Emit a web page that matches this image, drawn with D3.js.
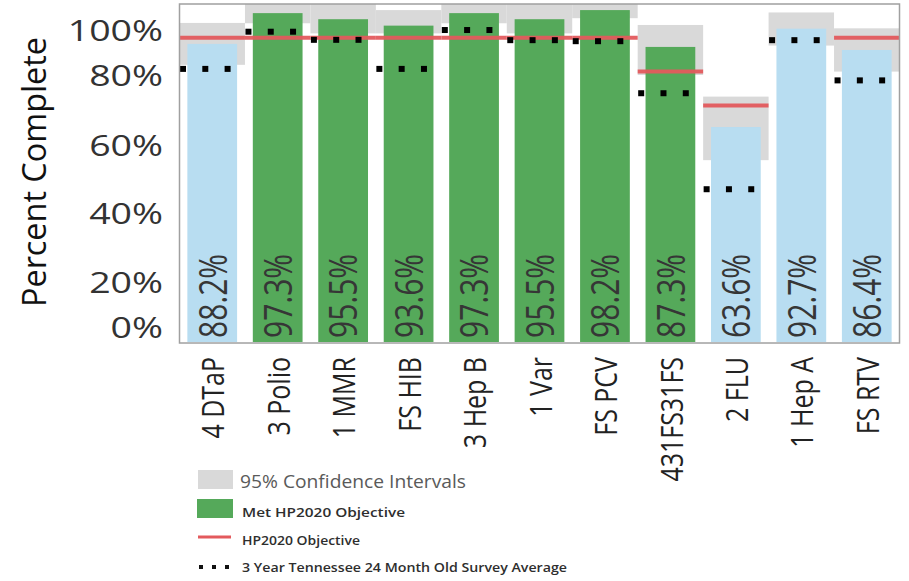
<!DOCTYPE html>
<html>
<head>
<meta charset="utf-8">
<script src="https://cdn.jsdelivr.net/npm/d3@7"></script>
<style>
  html, body { margin: 0; padding: 0; background: #fff; }
  svg { display: block; font-family: "Open Sans", "Noto Sans", sans-serif; }
</style>
</head>
<body>
<svg id="chart" width="909" height="581"></svg>
<script>
// ---- data ----
const categories = ["4 DTaP", "3 Polio", "1 MMR", "FS HIB", "3 Hep B", "1 Var", "FS PCV", "431FS31FS", "2 FLU", "1 Hep A", "FS RTV"];
const coverage   = [88.2, 97.3, 95.5, 93.6, 97.3, 95.5, 98.2, 87.3, 63.6, 92.7, 86.4];
const ciLower    = [82.0, 94.3, 91.3, 91.3, 94.3, 91.3, 95.8, 79.0, 53.8, 87.7, 80.0];
const ciUpper    = [94.4, 100, 100, 98.2, 100, 100, 100, 93.8, 72.6, 97.5, 92.8];
const objective  = [90, 90, 90, 90, 90, 90, 90, 80, 70, null, 90];
const surveyAvg  = [80.8, 91.8, 89.4, 80.8, 92.3, 89.3, 89.0, 73.6, 45.2, 89.3, 77.4];
const yTickValues = [0, 20, 40, 60, 80, 100];
const legendLabels = ["95% Confidence Intervals", "Met HP2020 Objective", "HP2020 Objective", "3 Year Tennessee 24 Month Old Survey Average"];

const rows = categories.map((c, i) => ({
  cat: c, value: coverage[i], lo: ciLower[i], hi: ciUpper[i],
  obj: objective[i], avg: surveyAvg[i],
  met: objective[i] != null && coverage[i] >= objective[i]
}));

const COLORS = { met: "#55a95a", notMet: "#b8ddf1", ci: "#d9d9d9", obj: "#e35a5d", dot: "#000" };

const svg = d3.select("#chart");
const plot = { left: 179.5, right: 899.5, top: 4, bottom: 342 };

const x = d3.scaleBand().domain(categories)
  .range([plot.left, plot.right]).paddingInner(0.24).paddingOuter(0.12);
const y = d3.scaleLinear().domain([0, 100]).range([plot.bottom, plot.top]);
// the reference's tick labels sit at irregular heights
const yLabel = d3.scaleLinear().domain(yTickValues).range([326, 281, 212.5, 144, 74, 29.5]);

const step = x.step();
const stepStart = c => x(c) - step * 0.12;
const cx = c => x(c) + x.bandwidth() / 2;

svg.append("rect").attr("width", 909).attr("height", 581).attr("fill", "#fff");

const clip = svg.append("clipPath").attr("id", "plotclip").append("rect")
  .attr("x", plot.left).attr("y", plot.top)
  .attr("width", plot.right - plot.left).attr("height", plot.bottom - plot.top);

const g = svg.append("g").attr("clip-path", "url(#plotclip)");

// confidence intervals
g.selectAll("rect.ci").data(rows).join("rect").attr("class", "ci")
  .attr("x", d => stepStart(d.cat)).attr("width", step)
  .attr("y", d => y(d.hi)).attr("height", d => y(d.lo) - y(d.hi))
  .attr("fill", COLORS.ci);

// bars
g.selectAll("rect.bar").data(rows).join("rect").attr("class", "bar")
  .attr("x", d => x(d.cat)).attr("width", x.bandwidth())
  .attr("y", d => y(d.value)).attr("height", d => y(0) - y(d.value))
  .attr("fill", d => d.met ? COLORS.met : COLORS.notMet);

// objective lines
g.selectAll("line.obj").data(rows.filter(d => d.obj != null)).join("line").attr("class", "obj")
  .attr("x1", d => stepStart(d.cat)).attr("x2", d => stepStart(d.cat) + step)
  .attr("y1", d => y(d.obj)).attr("y2", d => y(d.obj))
  .attr("stroke", COLORS.obj).attr("stroke-width", 4).attr("stroke-opacity", 0.95);

// survey average dots (3 squares per category)
const dotData = rows.flatMap(d => [0, 1, 2].map(k => ({ cat: d.cat, avg: d.avg, k })));
g.selectAll("rect.dot").data(dotData).join("rect").attr("class", "dot")
  .attr("x", d => stepStart(d.cat) + 0.5 + d.k * 22.3).attr("width", 6)
  .attr("y", d => y(d.avg) - 3).attr("height", 6)
  .attr("fill", COLORS.dot);

// value labels inside bars
svg.selectAll("text.val").data(rows).join("text").attr("class", "val")
  .attr("transform", d => `translate(${cx(d.cat)},338) scale(1.25,1) rotate(-90)`)
  .attr("text-anchor", "start").attr("dominant-baseline", "central")
  .attr("font-size", 30).attr("fill", "#363636")
  .text(d => d.value.toFixed(1) + "%");

// frame
svg.append("rect")
  .attr("x", plot.left).attr("y", plot.top)
  .attr("width", plot.right - plot.left).attr("height", plot.bottom + 1 - plot.top)
  .attr("fill", "none").attr("stroke", "#a0a0a0").attr("stroke-width", 1.5);

// y axis labels
const yAxis = d3.axisLeft(yLabel).tickValues(yTickValues).tickSize(0).tickFormat(d => d + "%");
const ya = svg.append("g").attr("transform", `translate(${plot.left},0)`).call(yAxis);
ya.select(".domain").remove();
ya.selectAll("text")
  .attr("x", 0).attr("dy", null)
  .attr("dominant-baseline", "central")
  .attr("transform", "translate(-16.5,0) scale(1.25,1)")
  .attr("font-family", "'Open Sans', sans-serif")
  .attr("font-size", 30).attr("fill", "#333");

// y title
svg.append("text")
  .attr("transform", "translate(33,172) scale(1.1,1) rotate(-90)")
  .attr("text-anchor", "middle").attr("dominant-baseline", "central")
  .attr("font-size", 30).attr("fill", "#111")
  .attr("textLength", 270).attr("lengthAdjust", "spacingAndGlyphs")
  .text("Percent Complete");

// x axis category labels
const xAxis = d3.axisBottom(x).tickSize(0);
const xa = svg.append("g").attr("transform", `translate(0,${plot.bottom})`).call(xAxis);
xa.select(".domain").remove();
xa.selectAll("text")
  .attr("y", null).attr("dy", null).attr("x", null)
  .attr("transform", "translate(0,15) scale(1.25,1) rotate(-90)")
  .attr("text-anchor", "end").attr("dominant-baseline", "central")
  .attr("font-family", "'Open Sans', sans-serif")
  .attr("font-size", 25).attr("fill", "#222");

// legend
const lg = svg.append("g");
lg.append("rect").attr("x", 198).attr("y", 470).attr("width", 35).attr("height", 19).attr("fill", COLORS.ci);
lg.append("rect").attr("x", 197).attr("y", 499).attr("width", 36).attr("height", 19).attr("fill", COLORS.met);
lg.append("line").attr("x1", 198).attr("x2", 231).attr("y1", 537).attr("y2", 537)
  .attr("stroke", COLORS.obj).attr("stroke-width", 3);
lg.selectAll("rect.ldot").data([0, 1, 2]).join("rect").attr("class", "ldot")
  .attr("x", k => 199 + k * 13).attr("y", 565).attr("width", 4).attr("height", 4).attr("fill", "#111");

const legendSpec = [
  { x: 240, y: 481, size: 18, len: 226, fill: "#5a5a5a", weight: 400 },
  { x: 242, y: 512, size: 13, len: 163, fill: "#2e2e2e", weight: 600 },
  { x: 242, y: 540, size: 13, len: 118, fill: "#2e2e2e", weight: 600 },
  { x: 242, y: 567, size: 12, len: 325, fill: "#2e2e2e", weight: 600 }
];
lg.selectAll("text.leg").data(legendLabels).join("text").attr("class", "leg")
  .attr("x", (d, i) => legendSpec[i].x).attr("y", (d, i) => legendSpec[i].y)
  .attr("dominant-baseline", "central")
  .attr("font-size", (d, i) => legendSpec[i].size)
  .attr("font-weight", (d, i) => legendSpec[i].weight)
  .attr("fill", (d, i) => legendSpec[i].fill)
  .attr("textLength", (d, i) => legendSpec[i].len).attr("lengthAdjust", "spacingAndGlyphs")
  .text(d => d);
</script>
</body>
</html>
